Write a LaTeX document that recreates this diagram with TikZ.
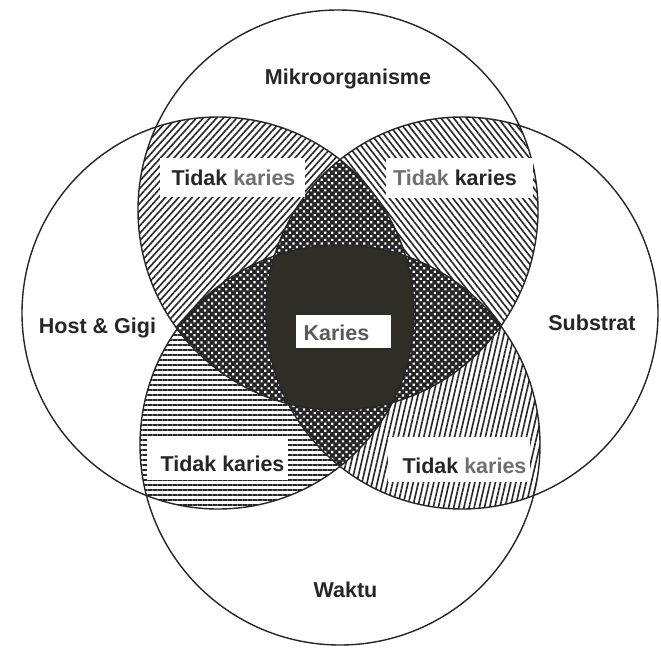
\documentclass[tikz,border=0pt]{standalone}
\usepackage{fontspec}
\setmainfont{Liberation Sans}
\usetikzlibrary{patterns.meta}
\definecolor{ink}{HTML}{262626}
\definecolor{core}{HTML}{2E2E26}
\definecolor{fade}{HTML}{707070}
\begin{document}
\begin{tikzpicture}[x=1pt,y=-1pt,
  lbl/.style={font=\fontsize{21.5}{24}\selectfont\bfseries, text=ink, inner sep=0pt, anchor=base},
  whitebox/.style={fill=white, draw=none, inner sep=0pt},
  ring/.style={draw=ink, line width=1.4pt},
  hatchA/.style={pattern={Lines[angle=48,distance=5pt,line width=1.6pt]}, pattern color=ink},
  hatchB/.style={pattern={Lines[angle=-52,distance=5pt,line width=1.6pt]}, pattern color=ink},
  hatchC/.style={pattern={Lines[angle=0,distance=5pt,line width=1.6pt]}, pattern color=ink},
  hatchD/.style={pattern={Lines[angle=77,distance=5pt,line width=1.6pt]}, pattern color=ink},
  dotsW/.style={pattern={Dots[angle=45,distance=5pt,radius=1.55pt]}, pattern color=white}]
\useasboundingbox (0,0) rectangle (661,650);
\fill[white] (0,0) rectangle (661,650);
\coordinate (cT) at (338,210);
\coordinate (cL) at (218,313);
\coordinate (cR) at (462,313);
\coordinate (cB) at (340,445);
\def\rT{200pt}\def\rL{196pt}\def\rR{196pt}\def\rB{200pt}
% pairwise overlaps
\begin{scope}\clip (cT) circle[radius=\rT]; \clip (cL) circle[radius=\rL];
  \fill[hatchA] (0,0) rectangle (661,650);\end{scope}
\begin{scope}\clip (cT) circle[radius=\rT]; \clip (cR) circle[radius=\rR];
  \fill[hatchB] (0,0) rectangle (661,650);\end{scope}
\begin{scope}\clip (cL) circle[radius=\rL]; \clip (cB) circle[radius=\rB];
  \fill[hatchC] (0,0) rectangle (661,650);\end{scope}
\begin{scope}\clip (cR) circle[radius=\rR]; \clip (cB) circle[radius=\rB];
  \fill[hatchD] (0,0) rectangle (661,650);\end{scope}
% triple overlaps
\begin{scope}\clip (cT) circle[radius=\rT]; \clip (cL) circle[radius=\rL]; \clip (cR) circle[radius=\rR];
  \fill[ink] (0,0) rectangle (661,650); \fill[dotsW] (0,0) rectangle (661,650);\end{scope}
\begin{scope}\clip (cT) circle[radius=\rT]; \clip (cL) circle[radius=\rL]; \clip (cB) circle[radius=\rB];
  \fill[ink] (0,0) rectangle (661,650); \fill[dotsW] (0,0) rectangle (661,650);\end{scope}
\begin{scope}\clip (cT) circle[radius=\rT]; \clip (cR) circle[radius=\rR]; \clip (cB) circle[radius=\rB];
  \fill[ink] (0,0) rectangle (661,650); \fill[dotsW] (0,0) rectangle (661,650);\end{scope}
\begin{scope}\clip (cL) circle[radius=\rL]; \clip (cR) circle[radius=\rR]; \clip (cB) circle[radius=\rB];
  \fill[ink] (0,0) rectangle (661,650); \fill[dotsW] (0,0) rectangle (661,650);\end{scope}
% four-way core
\begin{scope}\clip (cT) circle[radius=\rT]; \clip (cL) circle[radius=\rL]; \clip (cR) circle[radius=\rR]; \clip (cB) circle[radius=\rB];
  \fill[core] (0,0) rectangle (661,650);\end{scope}
% outlines
\draw[ring] (cT) circle[radius=\rT];
\draw[ring] (cL) circle[radius=\rL];
\draw[ring] (cR) circle[radius=\rR];
\draw[ring] (cB) circle[radius=\rB];
% white label boxes
\node[whitebox, minimum width=145pt, minimum height=39pt] (boxTL) at (232.5,177.5) {};
\node[whitebox, minimum width=147pt, minimum height=40pt] (boxTR) at (459.5,177.5) {};
\node[whitebox, minimum width=141pt, minimum height=43pt] (boxBL) at (217.5,458.5) {};
\node[whitebox, minimum width=142pt, minimum height=45pt] (boxBR) at (459,459.5) {};
\node[whitebox, minimum width=95pt, minimum height=33pt] (boxK) at (343.5,331.5) {};
% labels
\node[lbl] (mikro) at (348,85) {Mikroorganisme};
\node[lbl] (host) at (97.5,333) {Host \& Gigi};
\node[lbl] (sub) at (592,330) {Substrat};
\node[lbl] (waktu) at (345.5,597) {Waktu};
\node[lbl] (tk1) at (233.5,185) {Tidak {\color{fade}karies}};
\node[lbl] (tk2) at (455,185) {{\color{fade}Tidak} karies};
\node[lbl] (tk3) at (222.5,471) {Tidak karies};
\node[lbl] (tk4) at (464.5,473) {Tidak {\color{fade}karies}};
\node[lbl] (kar) at (336.5,340) {{\color{fade!80!black}Karies}};
\end{tikzpicture}
\end{document}
